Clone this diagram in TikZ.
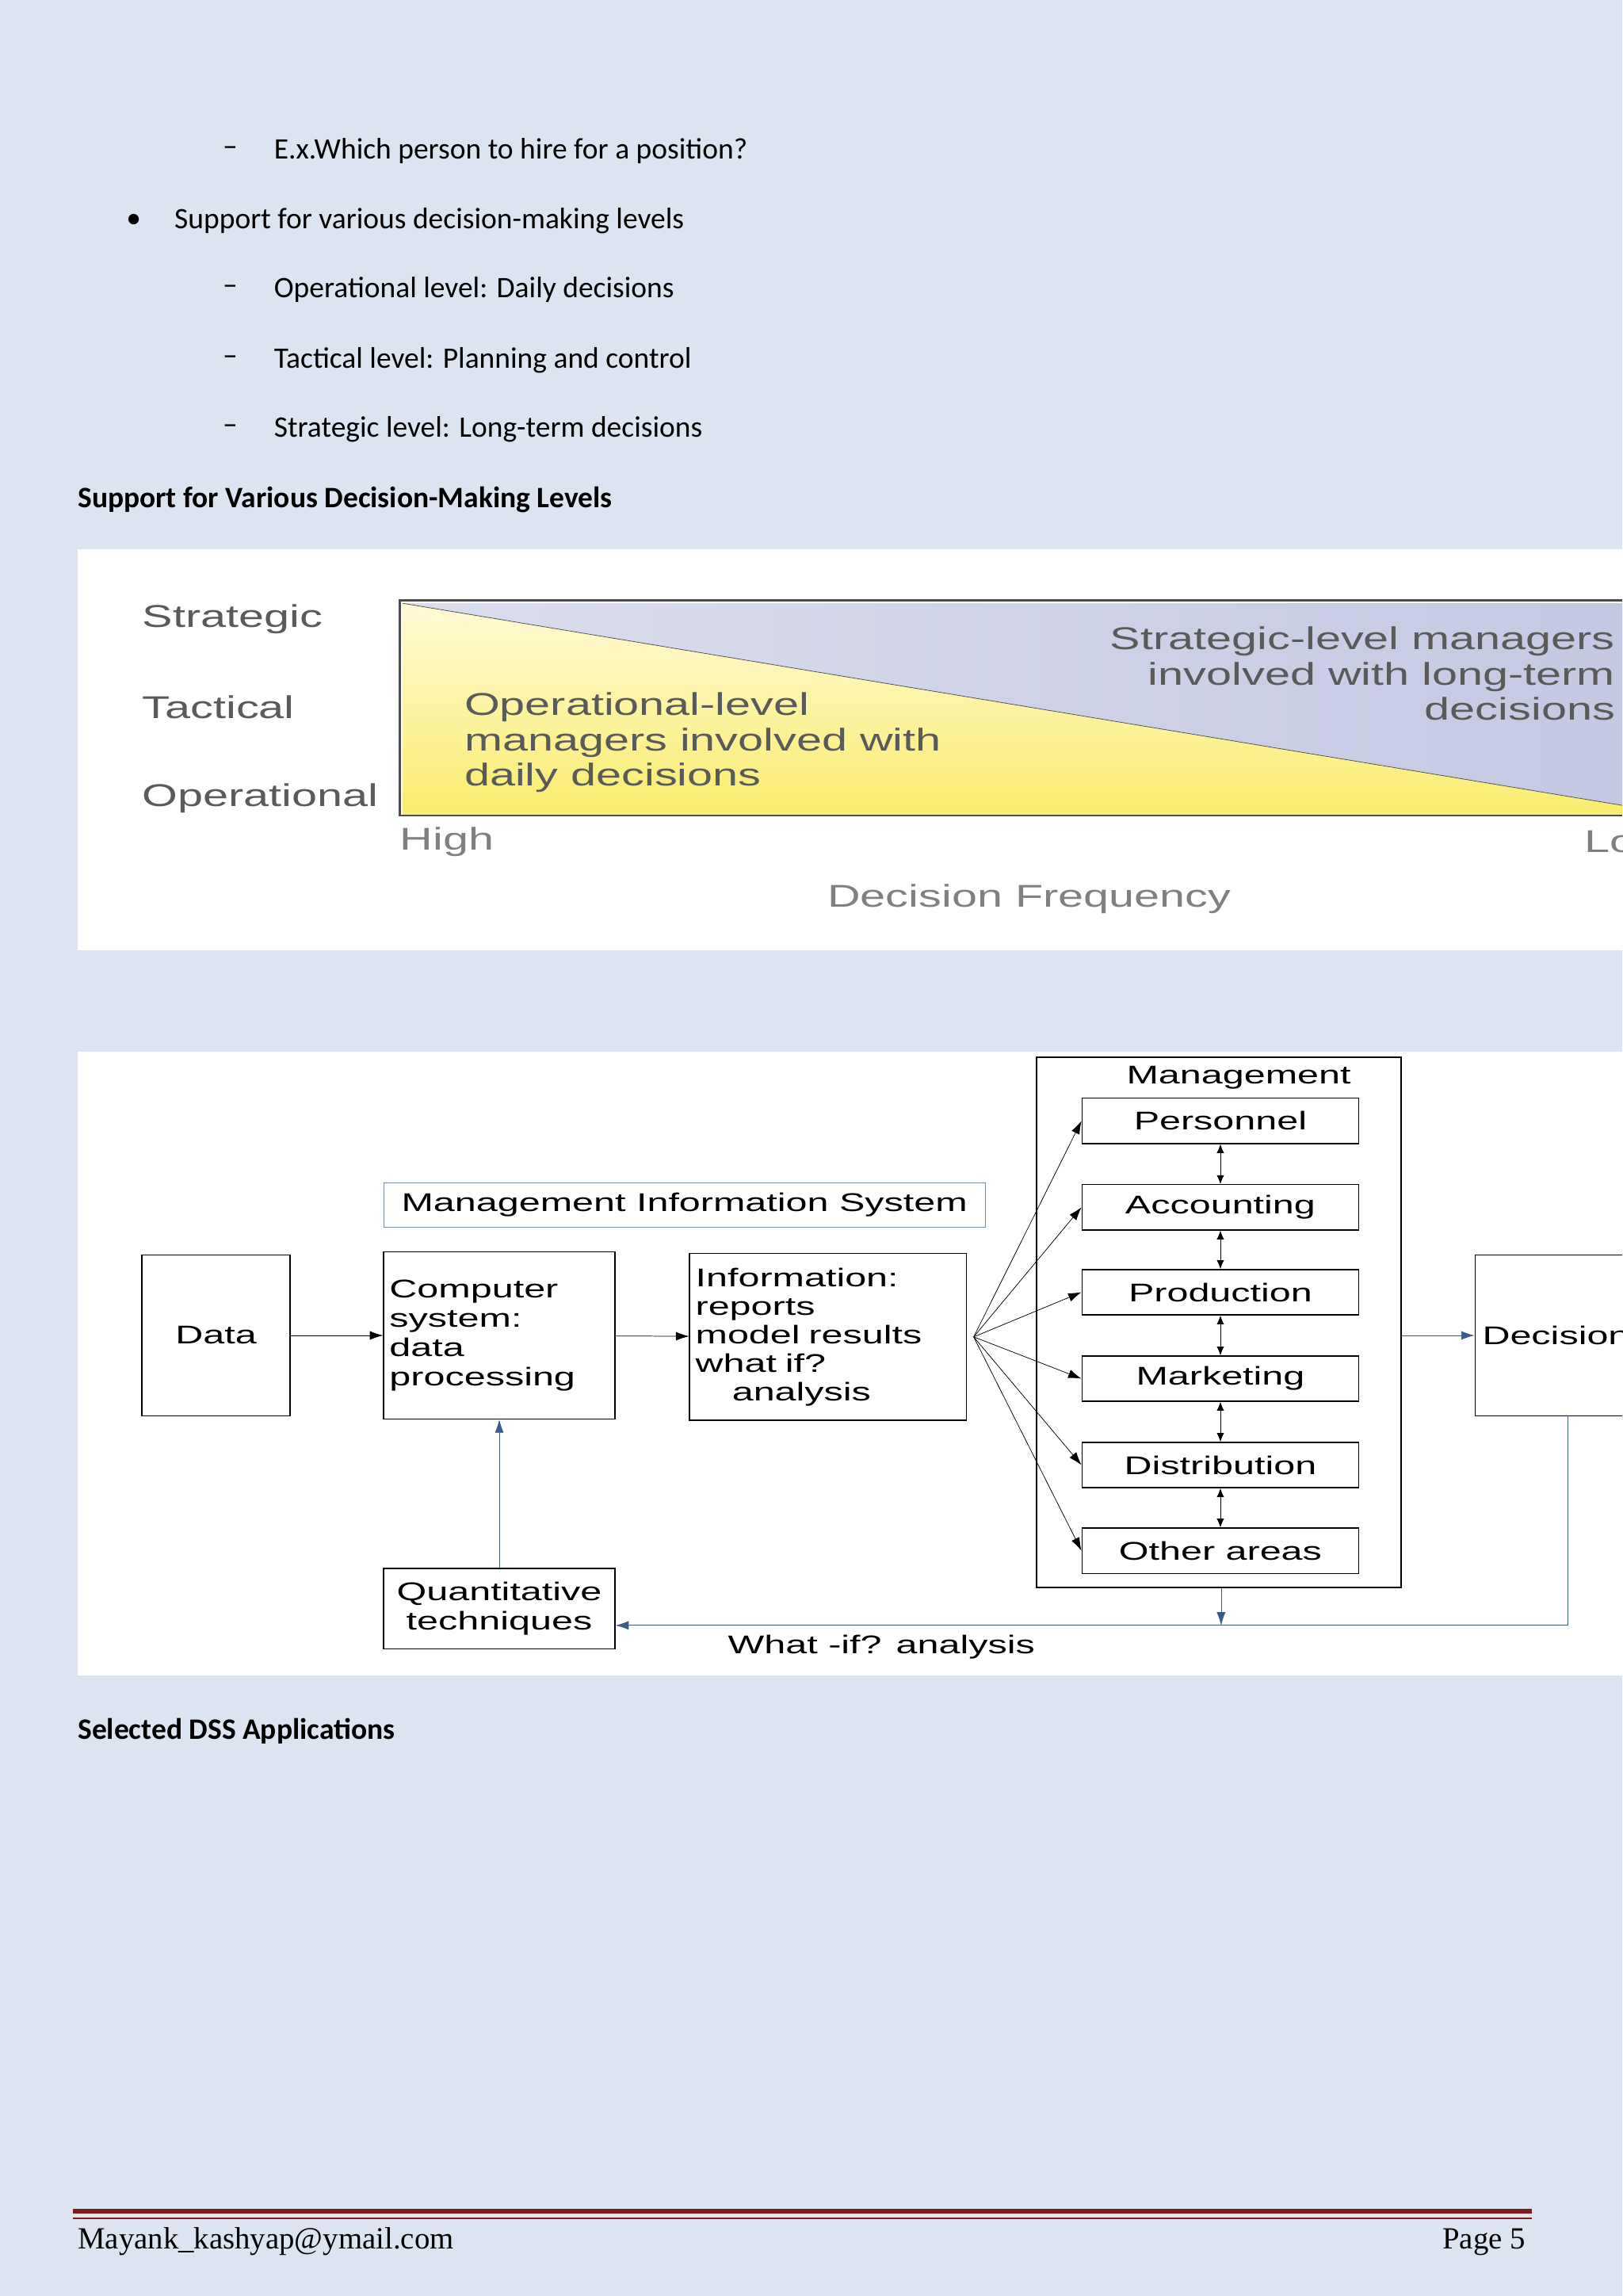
\documentclass[tikz,border=0pt]{standalone}
\usepackage{fontspec}
\setmainfont{Carlito}
\newfontfamily\dg{Liberation Sans}[FakeStretch=1.5]
\newfontfamily\cg{Liberation Sans}[FakeStretch=1.45]
\newfontfamily\ser{Liberation Serif}
\usetikzlibrary{arrows.meta}
\definecolor{bg}{RGB}{221,228,241}
\definecolor{lav}{RGB}{196,200,226}
\definecolor{yel}{RGB}{250,236,110}
\definecolor{lyel}{RGB}{255,250,215}
\definecolor{gtxt}{RGB}{90,90,90}
\definecolor{bl}{RGB}{60,90,140}
\definecolor{dred}{RGB}{120,30,30}
\begin{document}
\begin{tikzpicture}[x=1pt,y=-1pt,
 body/.style={anchor=west,inner sep=0,font=\fontsize{20.3}{22}\selectfont},
 glab/.style={inner sep=0,text=gtxt,font=\cg\fontsize{21.5}{24}\selectfont},
 box/.style={draw,thick,inner sep=3pt,font=\dg\fontsize{17.5}{20}\selectfont},
 ib/.style={draw,thick,minimum width=189pt,minimum height=31pt,inner sep=0,font=\dg\fontsize{17.5}{17}\selectfont},
 arr/.style={-{Latex[length=9pt,width=6pt]}},
 darr/.style={{Latex[length=6pt,width=5pt]}-{Latex[length=6pt,width=5pt]}}]
\useasboundingbox (0,0) rectangle (1108,1568);
\fill[bg] (0,0) rectangle (1108,1568);
\clip (0,0) rectangle (1108,1568);
% text
\node[body] (d0) at (152,103) {–};
\node[body] (t0) at (187,103) {E.x.Which person to hire for a position?};
\node[body] (b1) at (86,151) {•};
\node[body] (t1) at (119,151) {Support for various decision-making levels};
\node[body] (d2) at (152,198) {–};
\node[body] (t2) at (187,198) {Operational level: Daily decisions};
\node[body] (d3) at (152,246) {–};
\node[body] (t3) at (187,246) {Tactical level: Planning and control};
\node[body] (d4) at (152,293) {–};
\node[body] (t4) at (187,293) {Strategic level: Long-term decisions};
\node[body,font=\bfseries\fontsize{20.3}{22}\selectfont] (h1) at (53,341) {Support for Various Decision-Making Levels};
% panel 1
\fill[white] (53,375) rectangle (1108,649);
\shade[top color=lyel,bottom color=yel] (275,412) -- (1108,550) -- (1108,557) -- (275,557) -- cycle;
\shade[left color=lav!60,right color=lav] (275,412) -- (1108,412) -- (1108,550) -- cycle;
\draw[gray!60!black,line width=1.5pt] (1108,410) -- (273,410) -- (273,557) -- (1108,557);
\draw[gray!60!black] (275,412) -- (1108,550);
\node[glab,anchor=west] (s) at (97,423) {Strategic};
\node[glab,anchor=west] (t) at (97,483) {Tactical};
\node[glab,anchor=west] (o) at (97,545) {Operational};
\node[glab,anchor=west,align=left] (ol) at (317,507) {Operational-level\\managers involved with\\daily decisions};
\node[glab,anchor=west,align=right] (sl) at (758,460) {Strategic-level managers\\involved with long-term\\decisions};
\node[glab,anchor=west,text=gray] (hi) at (273,575) {High};
\node[glab,anchor=west,text=gray] (lo) at (1082,575) {Low};
\node[glab,text=gray] (df) at (703,614) {Decision Frequency};
% panel 2
\fill[white] (53,718) rectangle (1108,1144);
\node[box,minimum width=101pt,minimum height=110pt] (data) at (147.5,912) {Data};
\node[box,minimum width=158pt,minimum height=114pt,align=left,text width=150pt] (comp) at (341,912) {Computer\\system:\\data\\processing};
\node[box,minimum width=189pt,minimum height=114pt,align=left,text width=181pt,font=\dg\fontsize{17.5}{19.5}\selectfont] (info) at (565.5,913) {Information:\\reports\\model results\\what if?\\\hspace*{25pt}analysis};
\node[draw=bl!70,minimum width=411pt,minimum height=30pt,inner sep=0,font=\dg\fontsize{17.5}{17}\selectfont] (mis) at (467.5,823) {Management Information System};
\node[box,minimum width=158pt,minimum height=55pt,align=center,inner sep=0] (quant) at (341,1098.5) {Quantitative\\techniques};
\node[draw,thick,minimum width=249pt,minimum height=362pt,inner sep=0] (mgmt) at (832.5,903) {};
\node[inner sep=0,font=\dg\fontsize{17.5}{17}\selectfont] (mt) at (846,736) {Management};
\node[ib] (p1) at (833.5,765.5) {Personnel};
\node[ib] (p2) at (833.5,824.5) {Accounting};
\node[ib] (p3) at (833.5,882.5) {Production};
\node[ib] (p4) at (833.5,941.5) {Marketing};
\node[ib] (p5) at (833.5,1000.5) {Distribution};
\node[ib] (p6) at (833.5,1059) {Other areas};
\node[box,anchor=west,minimum width=130pt,minimum height=110pt,align=left,text width=120pt] (dec) at (1007,912) {Decision};
\coordinate (fan) at (665,913);
\draw[arr] (data) -- (comp);
\draw[arr] (comp) -- (info);
\foreach \b in {p1,p2,p3,p4,p5,p6}{\draw[arr] (fan) -- (\b.west);}
\foreach \a/\b in {p1/p2,p2/p3,p3/p4,p4/p5,p5/p6}{\draw[darr] (\a) -- (\b);}
\draw[arr,bl] (mgmt.east |- dec.west) -- (dec.west);
\draw[arr,bl] (quant.north) -- (comp.south -| quant.north);
\coordinate (c1) at (1071,967);
\coordinate (c2) at (1071,1110);
\draw[arr,bl] (c1) -- (c2) -- (quant.east |- c2);
\coordinate (m1) at (834,1110);
\draw[arr,bl] (mgmt.south -| m1) -- (m1);
\node[inner sep=0,font=\dg\fontsize{17.5}{17}\selectfont] (wi) at (602,1125) {What -if? analysis};
\node[body,font=\bfseries\fontsize{20.3}{22}\selectfont] (h2) at (53,1182) {Selected DSS Applications};
% footer
\draw[dred,line width=3pt] (50,1510) -- (1046,1510);
\draw[dred,line width=0.8pt] (50,1515) -- (1046,1515);
\node[body,font=\ser\fontsize{21}{22}\selectfont] (em) at (53,1531) {Mayank\_kashyap@ymail.com};
\node[body,anchor=east,font=\ser\fontsize{21}{22}\selectfont] (pg) at (1042,1531) {Page 5};
\end{tikzpicture}
\end{document}
